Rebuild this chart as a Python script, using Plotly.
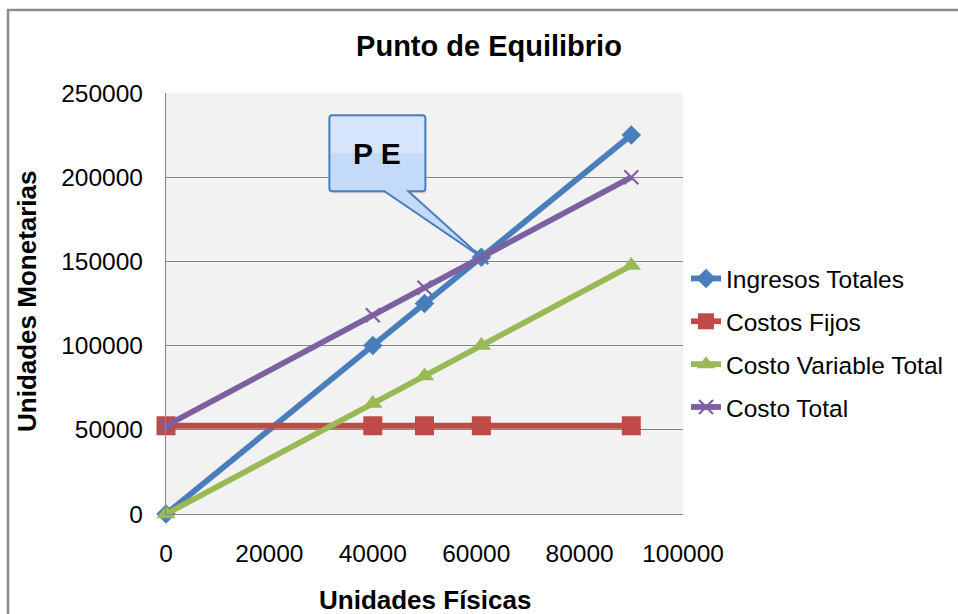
import plotly.graph_objects as go

# Units produced/sold and the monetary series
unidades = [0, 40000, 50000, 61000, 90000]
ingresos_totales = [0, 100000, 125000, 152500, 225000]
costos_fijos = [52400, 52400, 52400, 52400, 52400]
costo_variable_total = [0, 65600, 82000, 100040, 147600]
costo_total = [52400, 118000, 134400, 152440, 200000]

# Break-even point (index of the crossing in the arrays above)
pe_idx = 3
pe_x = unidades[pe_idx]
pe_y = ingresos_totales[pe_idx]

x_ticks = [0, 20000, 40000, 60000, 80000, 100000]
y_ticks = [0, 50000, 100000, 150000, 200000, 250000]

FONT = "Liberation Sans, Arial, sans-serif"
W, H = 958, 614
L, R, T, B = 166, 275, 93, 100

series = [
    ("Ingresos Totales", ingresos_totales, "#4a7ebb", dict(symbol="diamond", size=15)),
    ("Costos Fijos", costos_fijos, "#be4b48", dict(symbol="square", size=19)),
    ("Costo Variable Total", costo_variable_total, "#98b954", dict(symbol="triangle-up", size=17)),
    ("Costo Total", costo_total, "#7d60a0",
     dict(symbol="x-thin", size=14, line=dict(width=2.2, color="#7d60a0"))),
]

fig = go.Figure()
for i, (name, vals, color, mk) in enumerate(series):
    marker = dict(color=color, **mk)
    fig.add_trace(go.Scatter(
        x=unidades, y=vals, name=name, mode="lines+markers",
        line=dict(color=color, width=5.8), marker=marker,
        cliponaxis=False, legendgroup=f"g{i}",
    ))

axis_common = dict(
    showgrid=True, gridcolor="#868686", gridwidth=1.2,
    showline=True, linecolor="#868686", linewidth=1.2,
    zeroline=False, ticks="", tickformat="d",
    tickfont=dict(family=FONT, size=24.5, color="#000000"),
)

fig.update_xaxes(range=[0, 100000], tickvals=x_ticks, ticklabelstandoff=17,
                 **{**axis_common, "showgrid": False})
fig.update_yaxes(range=[0, 250000], tickvals=y_ticks, ticklabelstandoff=17,
                 **axis_common)

# Callout pointing at the break-even point (pixel offsets from the point)
callout = ("M -149,142 L -59,142 Q -56,142 -56,139 L -56,69 Q -56,66 -59,66 "
           "L -73,66 L 0,0 L -97,66 L -149,66 Q -152,66 -152,69 "
           "L -152,139 Q -152,142 -149,142 Z")
shadow = ("M -147,140 L -55,140 L -55,64 L -71,64 L 2,-2 L -95,64 "
          "L -150,64 L -150,140 Z")
# lighter upper half of the callout body for a soft top-to-bottom shading
callout_top = ("M -149,140.5 L -59,140.5 Q -57.5,140.5 -57.5,139 L -57.5,104 "
               "L -150.5,104 L -150.5,139 Q -150.5,140.5 -149,140.5 Z")

fig.update_layout(
    width=W, height=H,
    margin=dict(l=L, r=R, t=T, b=B, autoexpand=False),
    paper_bgcolor="#ffffff", plot_bgcolor="#f2f2f2",
    font=dict(family=FONT, color="#000000"),
    title=dict(text="<b>Punto de Equilibrio</b>", x=489 / W, xref="container",
               xanchor="center", y=1 - 46 / H, yref="container", yanchor="middle",
               font=dict(family=FONT, size=29, color="#000000")),
    legend=dict(x=(686 - L) / (W - L - R), xanchor="left",
                y=(514 - 256) / (614 - T - B), yanchor="top",
                font=dict(family=FONT, size=24.5, color="#000000"),
                bgcolor="rgba(0,0,0,0)", traceorder="grouped", tracegroupgap=8,
                itemsizing="trace"),
    shapes=[
        # outer chart frame
        dict(type="rect", xref="paper", yref="paper",
             x0=(8 - L) / (W - L - R), x1=1.6,
             y0=-0.4, y1=(514 - 10) / (614 - T - B),
             line=dict(color="#8c8c8c", width=2.5), fillcolor="rgba(0,0,0,0)",
             layer="below"),
        dict(type="path", xref="x", yref="y", xsizemode="pixel", ysizemode="pixel",
             xanchor=pe_x, yanchor=pe_y, path=shadow,
             fillcolor="rgba(0,0,0,0.12)", line=dict(width=0), layer="above"),
        dict(type="path", xref="x", yref="y", xsizemode="pixel", ysizemode="pixel",
             xanchor=pe_x, yanchor=pe_y, path=callout,
             fillcolor="#c4daf9", line=dict(color="#4a7ebb", width=2), layer="above"),
        dict(type="path", xref="x", yref="y", xsizemode="pixel", ysizemode="pixel",
             xanchor=pe_x, yanchor=pe_y, path=callout_top,
             fillcolor="rgba(230,239,253,0.55)", line=dict(width=0), layer="above"),
    ],
    annotations=[
        dict(text="<b>P E</b>", x=pe_x, y=pe_y, xref="x", yref="y",
             xshift=-104, yshift=104, showarrow=False,
             font=dict(family=FONT, size=30, color="#000000")),
        dict(text="<b>Unidades Físicas</b>", x=0.5, xref="paper",
             y=(514 - 600) / (614 - T - B), yref="paper", yanchor="middle",
             showarrow=False, font=dict(family=FONT, size=26, color="#000000")),
        dict(text="<b>Unidades Monetarias</b>", x=(27 - L) / (W - L - R), xref="paper",
             y=(514 - 301) / (614 - T - B), yref="paper", textangle=-90,
             xanchor="center", yanchor="middle",
             showarrow=False, font=dict(family=FONT, size=26, color="#000000")),
    ],
)

fig.write_html("out.html")
